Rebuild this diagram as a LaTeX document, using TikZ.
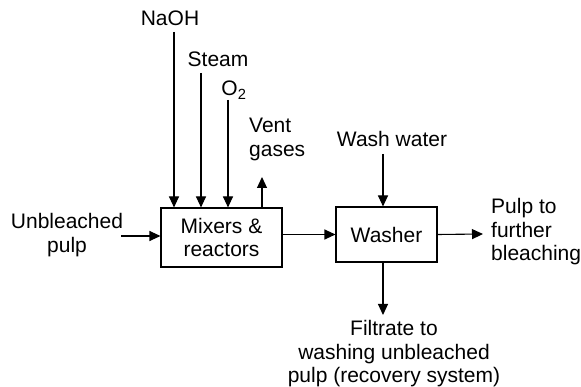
\documentclass[tikz,border=0pt]{standalone}
\usepackage{fontspec}
\setmainfont{Liberation Sans}
\usetikzlibrary{arrows.meta}

\tikzset{
  unit/.style={draw, line width=1.1pt, inner sep=0pt, align=center},
  label/.style={inner sep=0pt},
  flow/.style={->, line width=1.1pt}
}

\begin{document}
\begin{tikzpicture}[x=1pt, y=-1pt, >={Triangle[length=11pt,width=10pt]},
    font=\fontsize{21}{23.7}\selectfont]
    \useasboundingbox (0,0) rectangle (581,387);

    % Process units
    \node[unit, minimum width=121pt, minimum height=59pt] (mix) at (221.5,237.5) {Mixers \&\\reactors};
    \node[unit, minimum width=101pt, minimum height=55pt] (wash) at (386.5,234.5) {Washer};

    % Stream labels
    \node[label, anchor=base] (naoh) at (170,26) {NaOH};
    \node[label, anchor=base] (steam) at (218,66.7) {Steam};
    \node[label, anchor=base] (oxy) at (234,96) {O\textsubscript{2}};
    \node[label, anchor=north west, align=left] (vent) at (249,118) {Vent\\gases};
    \node[label, anchor=north, align=center] (unbl) at (67,213) {Unbleached\\pulp};
    \node[label, anchor=base] (washwater) at (392,147) {Wash water};
    \node[label, anchor=north west, align=left] (pulpout) at (491,198) {Pulp to\\further\\bleaching};
    \node[label, anchor=north, align=center] (filtrate) at (394,320) {Filtrate to\\washing unbleached\\pulp (recovery system)};

    % Stream ends
    \coordinate (naohtop) at (174,32);
    \coordinate (steamtop) at (201,73);
    \coordinate (oxytop) at (228,100);
    \coordinate (venttop) at (262,177);
    \coordinate (unblend) at (121,236);
    \coordinate (washtop) at (383,154);
    \coordinate (pulpend) at (483,234);
    \coordinate (filtend) at (383,315);

    % Streams
    \draw[flow] (naohtop) -- (naohtop |- mix.north);
    \draw[flow] (steamtop) -- (steamtop |- mix.north);
    \draw[flow] (oxytop) -- (oxytop |- mix.north);
    \draw[flow] (venttop |- mix.north) -- (venttop);
    \draw[flow] (unblend) -- (unblend -| mix.west);
    \draw[flow] (wash.west -| mix.east) -- (wash.west);
    \draw[flow] (washtop) -- (washtop |- wash.north);
    \draw[flow] (wash.east) -- (pulpend);
    \draw[flow] (filtend |- wash.south) -- (filtend);
\end{tikzpicture}
\end{document}
